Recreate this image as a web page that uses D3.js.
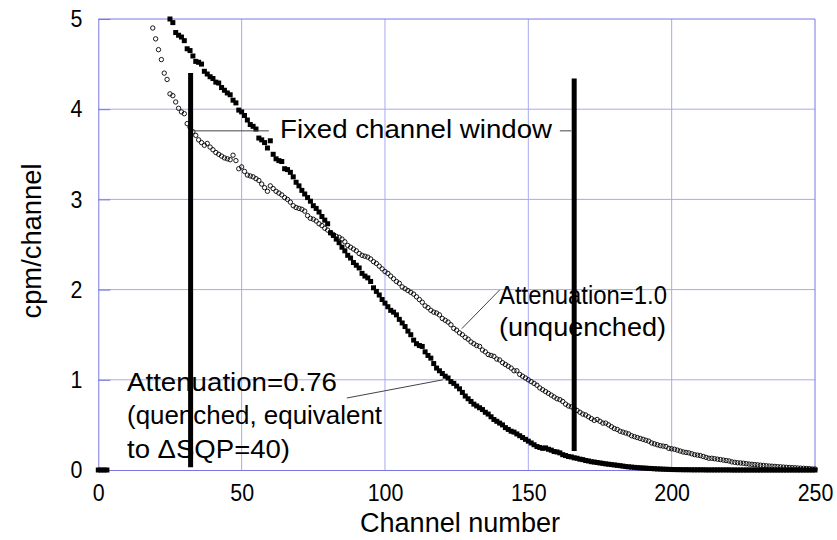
<!DOCTYPE html>
<html>
<head>
<meta charset="utf-8">
<script src="https://cdn.jsdelivr.net/npm/d3@7"></script>
<style>
  html, body { margin: 0; padding: 0; background: #ffffff; }
  svg { display: block; font-family: "Liberation Sans", Arial, sans-serif; }
</style>
</head>
<body>
<svg id="chart" width="837" height="540"></svg>
<script>
// ---------------- data ----------------
const xTicks = [0, 50, 100, 150, 200, 250];
const yTicks = [0, 1, 2, 3, 4, 5];

// Attenuation = 0.76 (quenched), filled squares
const quenchedLowChannels = [0, 1, 2, 3];
const quenchedLowValues = [0, 0, 0, 0];
const quenchedStart = 25;
const quenchedValues = [
  5.00, 4.96, 4.85, 4.82, 4.80, 4.76, 4.67, 4.65, 4.59, 4.53, // 25-34
  4.52, 4.50, 4.42, 4.39, 4.36, 4.34, 4.30, 4.29, 4.24, 4.21, // 35-44
  4.18, 4.16, 4.10, 4.07, 3.99, 3.97, 3.93, 3.88, 3.83, 3.81, // 45-54
  3.78, 3.68, 3.66, 3.63, 3.57, 3.65, 3.50, 3.45, 3.43, 3.42, // 55-64
  3.34, 3.33, 3.30, 3.25, 3.19, 3.15, 3.10, 3.06, 3.02, 2.98, // 65-74
  2.93, 2.90, 2.86, 2.81, 2.77, 2.73, 2.63, 2.60, 2.56, 2.52, // 75-84
  2.47, 2.43, 2.38, 2.35, 2.30, 2.27, 2.24, 2.18, 2.15, 2.13, // 85-94
  2.09, 2.02, 1.98, 1.94, 1.89, 1.85, 1.81, 1.77, 1.75, 1.72, // 95-104
  1.67, 1.63, 1.59, 1.54, 1.50, 1.44, 1.40, 1.38, 1.37, 1.31, // 105-114
  1.27, 1.24, 1.18, 1.13, 1.10, 1.07, 1.04, 1.02, 0.98, 0.96, // 115-124
  0.93, 0.90, 0.86, 0.82, 0.79, 0.76, 0.73, 0.71, 0.69, 0.67, // 125-134
  0.64, 0.62, 0.59, 0.56, 0.54, 0.52, 0.50, 0.47, 0.45, 0.43, // 135-144
  0.42, 0.40, 0.38, 0.36, 0.34, 0.32, 0.30, 0.28, 0.26, 0.25, // 145-154
  0.24, 0.245, 0.23, 0.22, 0.205, 0.20, 0.19, 0.17, 0.16, 0.15, // 155-164
  0.145, 0.135, 0.13, 0.12, 0.115, 0.105, 0.10, 0.092, 0.088, 0.083, // 165-174
  0.078, 0.073, 0.068, 0.064, 0.060, 0.056, 0.052, 0.048, 0.043, 0.038, // 175-184
  0.035, 0.032, 0.029, 0.026, 0.024, 0.022, 0.020, 0.018, 0.016, 0.014, // 185-194
  0.012, 0.011, 0.009, 0.008, 0.007, 0.005, 0.005, 0.004, 0.004, 0.003, // 195-204
  0.003, 0.003, 0.002, 0.002, 0.002, 0.002, 0.002, 0.001, 0.001, 0.001, // 205-214
  0.001, 0.001, 0.001, 0.001, 0.001, 0.001, 0.000, 0.000, 0.000, 0.000, // 215-224
  0.000, 0.000, 0.000, 0.000, 0.000, 0.000, 0.000, 0.000, 0.000, 0.000, // 225-234
  0.000, 0.000, 0.000, 0.000, 0.000, 0.000, 0.000, 0.000, 0.000, 0.000, // 235-244
  0.000, 0.000, 0.000, 0.000, 0.000, 0.000                              // 245-250
];

// Attenuation = 1.0 (unquenched), open circles
const unquenchedStart = 19;
const unquenchedValues = [
  4.90, 4.78, 4.66, 4.55, 4.40, 4.33, 4.17, 4.15, 4.08, 4.01, // 19-28
  3.97, 3.95, 3.84, 3.80, 3.75, 3.71, 3.66, 3.63, 3.60, 3.62, // 29-38
  3.58, 3.55, 3.52, 3.50, 3.48, 3.46, 3.45, 3.44, 3.49, 3.43, // 39-48
  3.34, 3.36, 3.31, 3.27, 3.26, 3.25, 3.23, 3.21, 3.17, 3.13, // 49-58
  3.09, 3.15, 3.12, 3.09, 3.07, 3.05, 3.02, 3.00, 2.97, 2.93, // 59-68
  2.91, 2.90, 2.89, 2.87, 2.82, 2.79, 2.78, 2.76, 2.73, 2.71, // 69-78
  2.68, 2.66, 2.63, 2.61, 2.59, 2.58, 2.56, 2.53, 2.49, 2.47, // 79-88
  2.45, 2.43, 2.40, 2.38, 2.37, 2.36, 2.34, 2.31, 2.29, 2.26, // 89-98
  2.23, 2.20, 2.18, 2.15, 2.12, 2.09, 2.07, 2.03, 2.01, 1.99, // 99-108
  1.97, 1.95, 1.92, 1.89, 1.86, 1.82, 1.80, 1.77, 1.75, 1.74, // 109-118
  1.72, 1.68, 1.66, 1.64, 1.61, 1.57, 1.55, 1.52, 1.50, 1.47, // 119-128
  1.45, 1.42, 1.40, 1.38, 1.37, 1.33, 1.31, 1.28, 1.27, 1.26, // 129-138
  1.23, 1.22, 1.19, 1.17, 1.15, 1.13, 1.10, 1.10, 1.06, 1.04, // 139-148
  1.02, 1.00, 0.98, 0.96, 0.94, 0.91, 0.89, 0.87, 0.85, 0.83, // 149-158
  0.81, 0.79, 0.78, 0.76, 0.73, 0.71, 0.70, 0.68, 0.66, 0.64, // 159-168
  0.62, 0.61, 0.59, 0.57, 0.55, 0.56, 0.54, 0.52, 0.52, 0.50, // 169-178
  0.48, 0.46, 0.45, 0.43, 0.42, 0.41, 0.40, 0.38, 0.37, 0.36, // 179-188
  0.35, 0.34, 0.33, 0.32, 0.30, 0.29, 0.28, 0.27, 0.265, 0.26, // 189-198
  0.24, 0.235, 0.23, 0.22, 0.21, 0.20, 0.195, 0.19, 0.18, 0.17, // 199-208
  0.165, 0.16, 0.15, 0.14, 0.13, 0.13, 0.125, 0.12, 0.115, 0.11, // 209-218
  0.105, 0.10, 0.09, 0.085, 0.08, 0.078, 0.075, 0.07, 0.066, 0.063, // 219-228
  0.06, 0.057, 0.053, 0.05, 0.047, 0.044, 0.042, 0.04, 0.037, 0.035, // 229-238
  0.032, 0.03, 0.028, 0.026, 0.025, 0.022, 0.02, 0.019, 0.017, 0.015, // 239-248
  0.012, 0.011                                                        // 249-250
];

// Fixed channel window (channel, top value, bottom value)
const windowChannels = [32.2, 166.0];
const windowTops = [4.40, 4.34];
const windowBottoms = [0.03, 0.21];

// ---------------- drawing ----------------
const svg = d3.select("#chart");
const x = d3.scaleLinear().domain([0, 250]).range([98.3, 815]);
const y = d3.scaleLinear().domain([0, 5]).range([470, 19]);

const gridColor = "#a8a8f2";
const frameColor = "#7878e0";
const digitW = 11.9;

// gridlines
svg.append("g").selectAll("line")
  .data(xTicks.filter(t => t > 0 && t < 250)).join("line")
  .attr("x1", d => x(d)).attr("x2", d => x(d))
  .attr("y1", y(5)).attr("y2", y(0))
  .attr("stroke", gridColor).attr("stroke-width", 1);
svg.append("g").selectAll("line")
  .data(yTicks.filter(t => t > 0 && t < 5)).join("line")
  .attr("x1", x(0)).attr("x2", x(250))
  .attr("y1", d => y(d)).attr("y2", d => y(d))
  .attr("stroke", gridColor).attr("stroke-width", 1);

// frame top + right
svg.append("line").attr("x1", x(0)).attr("x2", x(250)).attr("y1", y(5)).attr("y2", y(5))
  .attr("stroke", frameColor).attr("stroke-width", 1);
svg.append("line").attr("x1", x(250)).attr("x2", x(250)).attr("y1", y(5)).attr("y2", y(0))
  .attr("stroke", frameColor).attr("stroke-width", 1);

// axes
const yAxis = d3.axisLeft(y).tickValues(yTicks).tickSize(-12).tickPadding(16).tickFormat(d3.format("d"));
const gy = svg.append("g").attr("transform", `translate(${x(0)},0)`).call(yAxis);
gy.select(".domain").attr("stroke", frameColor);
gy.selectAll(".tick line").attr("stroke", frameColor);
gy.selectAll(".tick text").attr("font-size", 24).attr("fill", "#000")
  .attr("font-family", "Liberation Sans, Arial, sans-serif")
  .attr("textLength", d => String(d).length * digitW).attr("lengthAdjust", "spacingAndGlyphs");

const xAxis = d3.axisBottom(x).tickValues(xTicks).tickSize(0).tickPadding(14).tickFormat(d3.format("d"));
const gx = svg.append("g").attr("transform", `translate(0,${y(0)})`).call(xAxis);
gx.select(".domain").attr("stroke", frameColor);
gx.selectAll(".tick text").attr("font-size", 24).attr("fill", "#000")
  .attr("font-family", "Liberation Sans, Arial, sans-serif")
  .attr("textLength", d => String(d).length * digitW).attr("lengthAdjust", "spacingAndGlyphs");

// axis titles
svg.append("text").attr("x", 460).attr("y", 532).attr("text-anchor", "middle")
  .attr("font-size", 27).attr("textLength", 200).attr("lengthAdjust", "spacingAndGlyphs")
  .text("Channel number");
svg.append("text").attr("transform", "translate(41,241) rotate(-90)").attr("text-anchor", "middle")
  .attr("font-size", 27).attr("textLength", 155).attr("lengthAdjust", "spacingAndGlyphs")
  .text("cpm/channel");

// unquenched: open circles
const unq = unquenchedValues.map((v, i) => ({ c: unquenchedStart + i, v }));
svg.append("g").selectAll("circle").data(unq).join("circle")
  .attr("cx", d => x(d.c)).attr("cy", d => y(d.v)).attr("r", 2.2)
  .attr("fill", "none").attr("stroke", "#000").attr("stroke-width", 0.9);

// quenched: filled squares
const q = quenchedLowValues.map((v, i) => ({ c: quenchedLowChannels[i], v }))
  .concat(quenchedValues.map((v, i) => ({ c: quenchedStart + i, v })));
const sq = 5;
svg.append("g").selectAll("rect").data(q).join("rect")
  .attr("x", d => x(d.c) - sq / 2).attr("y", d => y(d.v) - sq / 2)
  .attr("width", sq).attr("height", sq).attr("fill", "#000");

// fixed channel window bars
svg.append("g").selectAll("line").data(windowChannels).join("line")
  .attr("x1", d => x(d)).attr("x2", d => x(d))
  .attr("y1", (d, i) => y(windowTops[i])).attr("y2", (d, i) => y(windowBottoms[i]))
  .attr("stroke", "#000").attr("stroke-width", 5);

// annotations
const leader = "#444";
function lead(c1, v1, c2, v2) {
  svg.append("line").attr("x1", x(c1)).attr("y1", y(v1)).attr("x2", x(c2)).attr("y2", y(v2))
    .attr("stroke", leader).attr("stroke-width", 1);
}
lead(33.1, 3.76, 59.5, 3.76);
lead(161.0, 3.76, 165.0, 3.76);
lead(126.8, 1.567, 140.0, 1.996);
lead(86.7, 0.798, 120.2, 1.0);

function label(xp, yp, str, w) {
  svg.append("text").attr("x", xp).attr("y", yp).attr("font-size", 25)
    .attr("textLength", w).attr("lengthAdjust", "spacingAndGlyphs").text(str);
}
label(280, 138, "Fixed channel window", 272);
label(499, 304, "Attenuation=1.0", 168);
label(499, 336, "(unquenched)", 167);
label(127, 391, "Attenuation=0.76", 210);
label(127, 424, "(quenched, equivalent", 255);
label(127, 458, "to \u0394SQP=40)", 163);
</script>
</body>
</html>
